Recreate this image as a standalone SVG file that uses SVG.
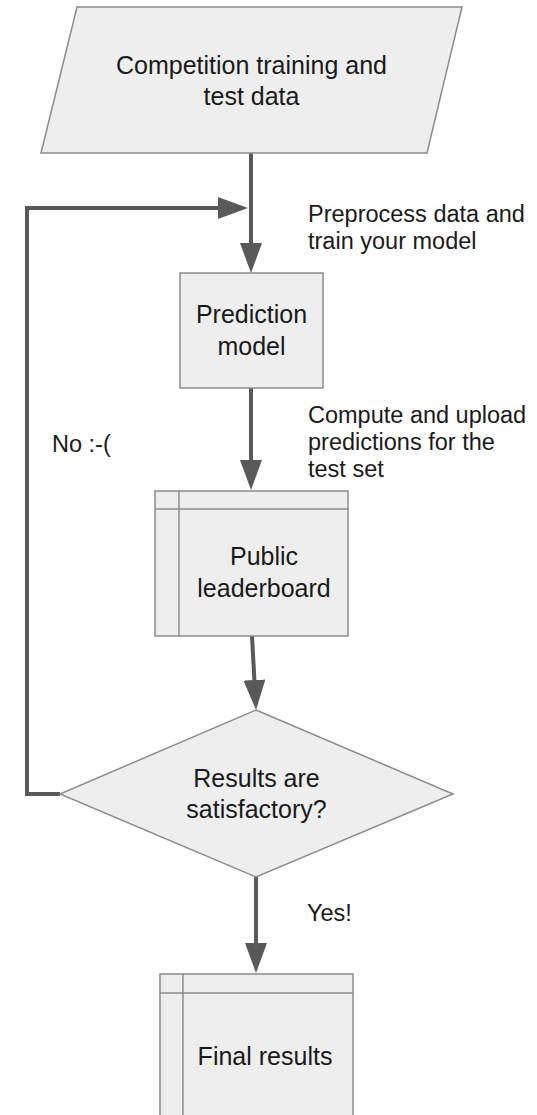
<svg xmlns="http://www.w3.org/2000/svg" width="537" height="1115" viewBox="0 0 537 1115">
<style>
.node{fill:#eeeeee;stroke:#8c8c8c;stroke-width:1.5}
.inner{fill:none;stroke:#8c8c8c;stroke-width:1.5}
.t{font-family:"Liberation Sans",Arial,sans-serif;font-size:25px;fill:#1a1a1a;text-anchor:middle}
.lbl{font-family:"Liberation Sans",Arial,sans-serif;font-size:23.5px;fill:#1a1a1a}
.conn{fill:none;stroke:#595959;stroke-width:4;stroke-linejoin:miter}
</style>
<defs>
<marker id="ah" viewBox="0 0 30 22" refX="2" refY="11" markerWidth="30" markerHeight="22" markerUnits="userSpaceOnUse" orient="auto">
<path d="M0,0 L30,11 L0,22 Z" fill="#595959"/>
</marker>
</defs>
<rect width="537" height="1115" fill="#ffffff"/>
<g id="connectors">
<path class="conn" d="M251,153 V245" marker-end="url(#ah)"/>
<path class="conn" d="M60,794 H27 V208 H220" marker-end="url(#ah)"/>
<path class="conn" d="M251,388 V462" marker-end="url(#ah)"/>
<path class="conn" d="M252,636 L254.5,682" marker-end="url(#ah)"/>
<path class="conn" d="M256,877 V945" marker-end="url(#ah)"/>
<text class="lbl" x="308" y="222">Preprocess data and</text>
<text class="lbl" x="308" y="249">train your model</text>
<text class="lbl" x="308" y="423">Compute and upload</text>
<text class="lbl" x="308" y="450">predictions for the</text>
<text class="lbl" x="308" y="477">test set</text>
<text class="lbl" x="52" y="452">No :-(</text>
<text class="lbl" x="307" y="921">Yes!</text>
</g>
<g id="data">
<polygon class="node" points="77,7 462,7 427,153 41,153"/>
<text class="t" x="251.5" y="74">Competition training and</text>
<text class="t" x="251.5" y="105">test data</text>
</g>
<g id="model">
<rect class="node" x="180" y="273" width="143" height="115"/>
<text class="t" x="251.5" y="323">Prediction</text>
<text class="t" x="251.5" y="355">model</text>
</g>
<g id="leaderboard">
<rect class="node" x="155" y="491" width="193" height="145"/>
<line class="inner" x1="179" y1="491" x2="179" y2="636"/>
<line class="inner" x1="155" y1="509" x2="348" y2="509"/>
<text class="t" x="264" y="565">Public</text>
<text class="t" x="264" y="597">leaderboard</text>
</g>
<g id="decision">
<polygon class="node" points="256,710 453,794 256,877 60,794"/>
<text class="t" x="256.5" y="787">Results are</text>
<text class="t" x="256.5" y="818">satisfactory?</text>
</g>
<g id="final">
<rect class="node" x="160" y="974" width="193" height="160"/>
<line class="inner" x1="183" y1="974" x2="183" y2="1134"/>
<line class="inner" x1="160" y1="993" x2="353" y2="993"/>
<text class="t" x="265" y="1065">Final results</text>
</g>
</svg>
